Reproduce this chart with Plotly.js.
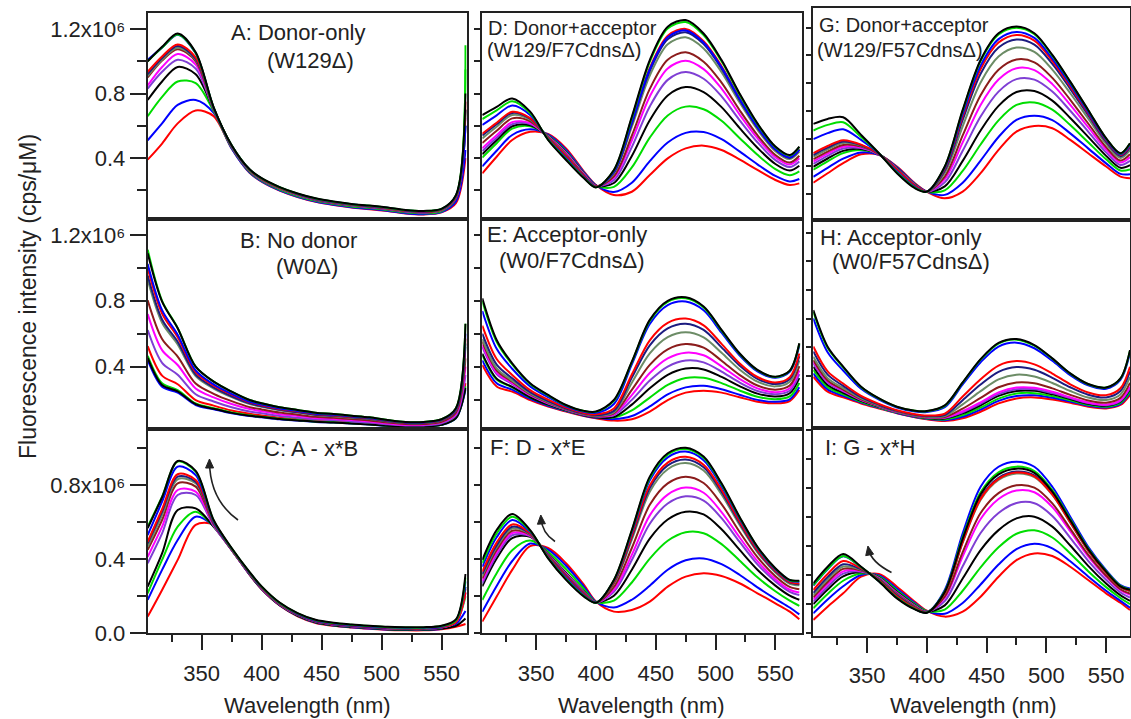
<!DOCTYPE html>
<html><head><meta charset="utf-8">
<script src="https://cdn.plot.ly/plotly-3.0.1.min.js"></script>
<style>html,body{margin:0;padding:0;background:#fff}#chart{width:1131px;height:719px}</style>
</head><body><div id="chart"></div>
<script>
// Wavelength grid (nm) shared by every spectrum
const wavelength = [305, 317, 330, 345, 360, 375, 390, 400, 415, 430, 445, 460, 475, 490, 505, 520, 535, 550, 562, 570];

// Series order inside every panel: red, blue, green, black, purple, magenta, brown, gray-green, navy, red, blue, green, black
// Values in units of 10^6 cps/uM
const spectraA = [
 [0.39,0.49,0.615,0.695,0.66,0.46,0.308,0.253,0.198,0.158,0.128,0.108,0.093,0.083,0.071,0.056,0.05,0.063,0.12,0.40],
 [0.51,0.615,0.73,0.76,0.68,0.46,0.31,0.255,0.2,0.16,0.13,0.11,0.095,0.085,0.073,0.058,0.052,0.065,0.13,0.45],
 [0.66,0.78,0.875,0.865,0.69,0.465,0.315,0.26,0.205,0.165,0.135,0.115,0.1,0.09,0.078,0.063,0.057,0.07,0.15,1.1],
 [0.76,0.875,0.965,0.92,0.70,0.47,0.32,0.265,0.21,0.17,0.14,0.12,0.105,0.095,0.083,0.068,0.062,0.075,0.15,0.6],
 [0.83,0.935,1.01,0.955,0.70,0.47,0.32,0.265,0.21,0.17,0.14,0.12,0.105,0.095,0.083,0.068,0.062,0.075,0.15,0.6],
 [0.85,0.965,1.045,0.98,0.705,0.472,0.322,0.267,0.212,0.172,0.142,0.122,0.107,0.097,0.085,0.07,0.064,0.077,0.155,0.65],
 [0.90,1.005,1.075,1.0,0.705,0.473,0.323,0.268,0.213,0.173,0.143,0.123,0.108,0.098,0.086,0.071,0.065,0.078,0.155,0.7],
 [0.91,1.01,1.085,1.01,0.708,0.474,0.324,0.269,0.214,0.174,0.144,0.124,0.109,0.099,0.087,0.072,0.066,0.079,0.158,0.7],
 [0.92,1.02,1.095,1.015,0.708,0.475,0.325,0.27,0.215,0.175,0.145,0.125,0.11,0.1,0.088,0.073,0.067,0.08,0.16,0.7],
 [0.935,1.03,1.105,1.025,0.71,0.476,0.326,0.271,0.216,0.176,0.146,0.126,0.111,0.101,0.089,0.074,0.068,0.081,0.16,0.75],
 [1.01,1.085,1.165,1.05,0.712,0.478,0.328,0.273,0.218,0.178,0.148,0.128,0.113,0.103,0.091,0.076,0.07,0.083,0.165,0.6],
 [1.0,1.085,1.167,1.052,0.713,0.479,0.329,0.274,0.219,0.179,0.149,0.129,0.114,0.104,0.092,0.077,0.071,0.084,0.168,0.95],
 [1.0,1.09,1.173,1.056,0.715,0.48,0.33,0.275,0.22,0.18,0.15,0.13,0.115,0.105,0.093,0.078,0.072,0.085,0.17,0.8]
];
const spectraB = [
 [0.524,0.345,0.293,0.197,0.163,0.133,0.113,0.103,0.089,0.08,0.071,0.067,0.06,0.054,0.045,0.039,0.039,0.05,0.094,0.30],
 [0.44,0.278,0.242,0.167,0.141,0.116,0.10,0.092,0.08,0.072,0.064,0.06,0.054,0.048,0.04,0.035,0.035,0.046,0.086,0.26],
 [0.466,0.299,0.258,0.176,0.148,0.121,0.104,0.095,0.083,0.075,0.066,0.062,0.056,0.05,0.041,0.036,0.036,0.047,0.088,0.28],
 [0.453,0.288,0.25,0.172,0.144,0.119,0.102,0.094,0.081,0.073,0.065,0.061,0.055,0.049,0.041,0.036,0.036,0.047,0.087,0.27],
 [0.622,0.423,0.351,0.232,0.188,0.153,0.127,0.116,0.10,0.09,0.08,0.075,0.067,0.06,0.05,0.043,0.043,0.056,0.103,0.35],
 [0.719,0.50,0.41,0.267,0.213,0.173,0.142,0.129,0.111,0.10,0.088,0.082,0.075,0.067,0.055,0.047,0.047,0.061,0.112,0.40],
 [0.803,0.568,0.461,0.297,0.235,0.19,0.154,0.14,0.121,0.108,0.095,0.089,0.081,0.073,0.06,0.051,0.051,0.065,0.12,0.45],
 [0.927,0.666,0.535,0.342,0.267,0.215,0.173,0.156,0.135,0.121,0.106,0.099,0.09,0.081,0.067,0.057,0.057,0.072,0.132,0.52],
 [0.953,0.686,0.551,0.351,0.274,0.22,0.177,0.159,0.138,0.123,0.108,0.101,0.092,0.083,0.068,0.058,0.058,0.073,0.134,0.54],
 [0.998,0.723,0.578,0.367,0.285,0.23,0.183,0.165,0.143,0.128,0.112,0.105,0.095,0.086,0.071,0.06,0.06,0.075,0.138,0.57],
 [1.024,0.743,0.594,0.377,0.292,0.235,0.187,0.169,0.146,0.131,0.114,0.107,0.097,0.088,0.072,0.061,0.061,0.077,0.141,0.60],
 [1.11,0.80,0.635,0.40,0.309,0.248,0.197,0.177,0.153,0.137,0.12,0.112,0.102,0.092,0.076,0.064,0.064,0.08,0.147,0.66],
 [1.089,0.795,0.633,0.40,0.309,0.248,0.197,0.177,0.153,0.137,0.12,0.112,0.102,0.092,0.076,0.064,0.064,0.08,0.147,0.66]
];
const spectraC = [
 [0.09,0.234,0.396,0.585,0.585,0.45,0.315,0.237,0.15,0.092,0.056,0.04,0.031,0.024,0.018,0.016,0.016,0.022,0.035,0.05],
 [0.18,0.342,0.503,0.629,0.579,0.45,0.316,0.238,0.151,0.094,0.058,0.042,0.033,0.026,0.02,0.018,0.018,0.025,0.05,0.12],
 [0.216,0.396,0.575,0.656,0.575,0.45,0.318,0.24,0.153,0.096,0.06,0.044,0.035,0.028,0.022,0.02,0.02,0.027,0.06,0.2],
 [0.252,0.431,0.665,0.674,0.575,0.45,0.318,0.24,0.153,0.096,0.06,0.044,0.035,0.028,0.022,0.02,0.02,0.026,0.04,0.08],
 [0.378,0.539,0.746,0.746,0.579,0.45,0.32,0.243,0.156,0.099,0.063,0.047,0.038,0.031,0.025,0.023,0.023,0.031,0.06,0.22],
 [0.413,0.575,0.773,0.764,0.584,0.45,0.32,0.243,0.156,0.099,0.063,0.047,0.038,0.031,0.025,0.023,0.023,0.031,0.06,0.22],
 [0.45,0.611,0.809,0.791,0.588,0.452,0.322,0.245,0.158,0.101,0.065,0.049,0.04,0.033,0.027,0.025,0.025,0.033,0.065,0.24],
 [0.467,0.638,0.831,0.809,0.591,0.452,0.322,0.245,0.158,0.101,0.065,0.049,0.04,0.033,0.027,0.025,0.025,0.033,0.065,0.25],
 [0.485,0.656,0.845,0.818,0.593,0.452,0.322,0.245,0.158,0.101,0.065,0.049,0.04,0.033,0.027,0.025,0.025,0.033,0.065,0.25],
 [0.494,0.669,0.858,0.827,0.597,0.454,0.324,0.247,0.16,0.103,0.067,0.051,0.042,0.035,0.029,0.027,0.027,0.035,0.06,0.22],
 [0.53,0.71,0.899,0.854,0.602,0.456,0.326,0.249,0.162,0.105,0.069,0.053,0.044,0.037,0.031,0.029,0.029,0.037,0.07,0.28],
 [0.575,0.737,0.926,0.872,0.608,0.458,0.328,0.251,0.164,0.107,0.071,0.055,0.046,0.039,0.033,0.031,0.031,0.039,0.07,0.3],
 [0.567,0.734,0.929,0.876,0.611,0.46,0.33,0.253,0.166,0.109,0.073,0.057,0.048,0.041,0.035,0.033,0.033,0.041,0.075,0.32]
];
const spectraD = [
 [0.305,0.408,0.512,0.563,0.549,0.46,0.316,0.233,0.171,0.191,0.295,0.398,0.46,0.477,0.45,0.392,0.326,0.264,0.233,0.243],
 [0.348,0.445,0.543,0.578,0.545,0.451,0.311,0.231,0.19,0.247,0.381,0.496,0.556,0.561,0.517,0.441,0.361,0.289,0.255,0.27],
 [0.403,0.492,0.582,0.597,0.539,0.441,0.305,0.229,0.221,0.342,0.527,0.664,0.719,0.703,0.631,0.525,0.42,0.331,0.293,0.317],
 [0.424,0.51,0.597,0.604,0.537,0.436,0.302,0.228,0.245,0.413,0.635,0.788,0.84,0.809,0.716,0.587,0.464,0.363,0.322,0.352],
 [0.443,0.526,0.61,0.611,0.535,0.433,0.30,0.227,0.263,0.468,0.72,0.885,0.934,0.892,0.783,0.636,0.498,0.387,0.344,0.379],
 [0.461,0.541,0.623,0.617,0.533,0.429,0.298,0.227,0.277,0.509,0.782,0.956,1.004,0.952,0.831,0.671,0.523,0.405,0.36,0.399],
 [0.493,0.569,0.646,0.628,0.53,0.423,0.294,0.225,0.287,0.539,0.829,1.01,1.056,0.998,0.868,0.698,0.542,0.419,0.372,0.414],
 [0.522,0.594,0.667,0.638,0.527,0.417,0.291,0.224,0.305,0.594,0.912,1.106,1.149,1.08,0.933,0.746,0.576,0.443,0.394,0.44],
 [0.54,0.61,0.68,0.644,0.525,0.413,0.289,0.223,0.311,0.612,0.94,1.137,1.18,1.107,0.955,0.762,0.588,0.451,0.401,0.449],
 [0.551,0.619,0.687,0.648,0.524,0.411,0.287,0.223,0.315,0.624,0.959,1.159,1.201,1.125,0.97,0.773,0.595,0.457,0.406,0.455],
 [0.605,0.665,0.726,0.667,0.518,0.40,0.281,0.221,0.314,0.619,0.951,1.15,1.192,1.117,0.963,0.768,0.592,0.454,0.404,0.453],
 [0.642,0.696,0.752,0.679,0.515,0.393,0.277,0.219,0.324,0.649,0.997,1.203,1.244,1.163,1.0,0.795,0.611,0.468,0.416,0.468],
 [0.667,0.718,0.77,0.688,0.512,0.388,0.274,0.218,0.326,0.656,1.008,1.215,1.256,1.173,1.008,0.801,0.615,0.471,0.419,0.471]
];
const spectraE = [
 [0.41,0.279,0.248,0.197,0.157,0.127,0.10,0.086,0.072,0.08,0.127,0.197,0.242,0.254,0.242,0.214,0.187,0.177,0.191,0.258],
 [0.438,0.299,0.26,0.204,0.162,0.13,0.102,0.089,0.081,0.10,0.158,0.231,0.274,0.283,0.263,0.229,0.198,0.186,0.201,0.274],
 [0.471,0.321,0.274,0.212,0.168,0.133,0.105,0.092,0.091,0.134,0.212,0.289,0.331,0.332,0.30,0.255,0.217,0.202,0.219,0.301],
 [0.479,0.327,0.277,0.214,0.169,0.134,0.105,0.093,0.093,0.169,0.268,0.35,0.388,0.383,0.338,0.282,0.236,0.218,0.238,0.33],
 [0.519,0.355,0.294,0.225,0.176,0.138,0.108,0.097,0.106,0.198,0.315,0.40,0.437,0.426,0.37,0.304,0.252,0.232,0.253,0.354],
 [0.532,0.364,0.30,0.228,0.178,0.139,0.109,0.098,0.11,0.227,0.361,0.45,0.485,0.469,0.402,0.326,0.268,0.245,0.269,0.377],
 [0.552,0.378,0.308,0.233,0.182,0.141,0.111,0.10,0.116,0.259,0.411,0.505,0.537,0.515,0.436,0.35,0.285,0.26,0.285,0.403],
 [0.568,0.389,0.315,0.237,0.185,0.143,0.112,0.102,0.121,0.302,0.48,0.579,0.609,0.578,0.484,0.383,0.309,0.28,0.308,0.438],
 [0.60,0.412,0.329,0.245,0.19,0.146,0.115,0.105,0.131,0.333,0.529,0.632,0.66,0.623,0.517,0.407,0.326,0.294,0.325,0.463],
 [0.649,0.446,0.349,0.257,0.199,0.151,0.118,0.11,0.146,0.352,0.56,0.666,0.692,0.651,0.538,0.421,0.337,0.303,0.335,0.479],
 [0.738,0.508,0.387,0.28,0.215,0.159,0.125,0.119,0.173,0.414,0.659,0.773,0.795,0.742,0.606,0.469,0.371,0.332,0.368,0.529],
 [0.799,0.551,0.413,0.295,0.225,0.165,0.13,0.125,0.192,0.427,0.678,0.794,0.815,0.76,0.619,0.478,0.378,0.337,0.374,0.539],
 [0.815,0.562,0.42,0.299,0.228,0.167,0.131,0.127,0.197,0.43,0.684,0.80,0.821,0.765,0.623,0.481,0.38,0.339,0.376,0.542]
];
const spectraF = [
 [0.063,0.198,0.342,0.47,0.46,0.378,0.261,0.171,0.117,0.126,0.171,0.252,0.306,0.324,0.309,0.27,0.216,0.162,0.117,0.076],
 [0.116,0.255,0.39,0.484,0.451,0.364,0.251,0.17,0.139,0.181,0.257,0.343,0.394,0.404,0.373,0.316,0.248,0.186,0.139,0.102],
 [0.18,0.324,0.448,0.50,0.44,0.346,0.239,0.169,0.176,0.274,0.403,0.499,0.545,0.54,0.481,0.393,0.302,0.227,0.176,0.148],
 [0.253,0.403,0.514,0.52,0.428,0.327,0.225,0.168,0.203,0.343,0.511,0.614,0.656,0.641,0.561,0.451,0.343,0.257,0.203,0.181],
 [0.269,0.421,0.529,0.524,0.425,0.322,0.222,0.167,0.224,0.395,0.591,0.70,0.739,0.716,0.621,0.494,0.372,0.28,0.224,0.206],
 [0.283,0.435,0.541,0.527,0.423,0.319,0.219,0.167,0.235,0.423,0.636,0.748,0.786,0.758,0.654,0.518,0.389,0.292,0.235,0.22],
 [0.296,0.449,0.553,0.531,0.421,0.315,0.217,0.167,0.25,0.46,0.693,0.809,0.845,0.811,0.697,0.548,0.411,0.308,0.25,0.237],
 [0.309,0.464,0.565,0.534,0.419,0.311,0.214,0.167,0.267,0.505,0.764,0.885,0.918,0.878,0.749,0.586,0.437,0.328,0.267,0.259],
 [0.319,0.474,0.575,0.537,0.417,0.309,0.212,0.166,0.273,0.518,0.784,0.906,0.938,0.896,0.764,0.597,0.444,0.334,0.273,0.265],
 [0.333,0.489,0.587,0.54,0.415,0.305,0.21,0.166,0.276,0.527,0.798,0.921,0.952,0.909,0.774,0.604,0.449,0.338,0.276,0.269],
 [0.359,0.518,0.611,0.547,0.41,0.298,0.205,0.166,0.283,0.544,0.825,0.949,0.98,0.934,0.794,0.618,0.459,0.345,0.283,0.278],
 [0.379,0.539,0.629,0.553,0.407,0.292,0.201,0.165,0.286,0.553,0.838,0.964,0.994,0.947,0.804,0.625,0.464,0.349,0.286,0.282],
 [0.396,0.557,0.644,0.557,0.404,0.288,0.198,0.165,0.288,0.557,0.845,0.971,1.001,0.953,0.809,0.629,0.467,0.351,0.288,0.284]
];
const spectraG = [
 [0.283,0.351,0.423,0.487,0.483,0.399,0.279,0.218,0.17,0.218,0.351,0.519,0.651,0.691,0.675,0.591,0.495,0.399,0.327,0.315],
 [0.325,0.39,0.456,0.501,0.484,0.394,0.275,0.218,0.195,0.283,0.442,0.612,0.735,0.765,0.734,0.638,0.53,0.422,0.346,0.343],
 [0.376,0.437,0.496,0.518,0.486,0.388,0.271,0.218,0.228,0.368,0.558,0.732,0.843,0.861,0.809,0.698,0.574,0.451,0.37,0.379],
 [0.397,0.457,0.512,0.525,0.486,0.386,0.269,0.218,0.256,0.44,0.659,0.836,0.936,0.943,0.874,0.749,0.613,0.476,0.39,0.41],
 [0.418,0.476,0.529,0.532,0.487,0.384,0.267,0.218,0.285,0.513,0.759,0.939,1.029,1.025,0.939,0.801,0.651,0.501,0.411,0.441],
 [0.435,0.492,0.542,0.537,0.487,0.382,0.266,0.218,0.308,0.573,0.843,1.026,1.107,1.094,0.993,0.844,0.683,0.522,0.428,0.467],
 [0.452,0.507,0.555,0.543,0.488,0.38,0.265,0.218,0.327,0.623,0.912,1.096,1.17,1.15,1.038,0.88,0.709,0.539,0.442,0.488],
 [0.469,0.523,0.569,0.549,0.488,0.378,0.263,0.218,0.353,0.689,1.004,1.191,1.256,1.225,1.097,0.927,0.745,0.562,0.461,0.517],
 [0.482,0.535,0.579,0.553,0.489,0.376,0.262,0.218,0.371,0.735,1.067,1.256,1.314,1.277,1.138,0.959,0.769,0.578,0.474,0.536],
 [0.495,0.547,0.589,0.557,0.489,0.375,0.261,0.218,0.381,0.76,1.102,1.292,1.347,1.306,1.161,0.977,0.782,0.587,0.482,0.547],
 [0.596,0.64,0.668,0.591,0.492,0.363,0.252,0.218,0.388,0.778,1.126,1.317,1.369,1.326,1.177,0.99,0.791,0.593,0.487,0.554],
 [0.659,0.699,0.718,0.612,0.494,0.356,0.247,0.218,0.397,0.801,1.159,1.351,1.399,1.352,1.198,1.007,0.804,0.601,0.493,0.564],
 [0.706,0.742,0.754,0.627,0.495,0.351,0.243,0.218,0.399,0.807,1.167,1.359,1.407,1.359,1.203,1.011,0.807,0.603,0.495,0.567]
];
const spectraH = [
 [0.394,0.289,0.249,0.207,0.172,0.138,0.11,0.096,0.084,0.103,0.149,0.207,0.242,0.249,0.235,0.212,0.184,0.172,0.196,0.266],
 [0.417,0.305,0.26,0.213,0.176,0.14,0.112,0.099,0.09,0.114,0.164,0.225,0.259,0.264,0.247,0.221,0.191,0.178,0.204,0.279],
 [0.441,0.321,0.271,0.219,0.179,0.143,0.115,0.102,0.095,0.125,0.178,0.241,0.276,0.279,0.258,0.229,0.197,0.184,0.211,0.291],
 [0.464,0.336,0.281,0.225,0.183,0.145,0.117,0.105,0.101,0.137,0.194,0.26,0.294,0.295,0.271,0.238,0.204,0.19,0.219,0.305],
 [0.487,0.352,0.292,0.23,0.186,0.147,0.119,0.108,0.106,0.145,0.205,0.272,0.306,0.306,0.279,0.244,0.209,0.195,0.225,0.315],
 [0.499,0.36,0.297,0.233,0.188,0.148,0.12,0.109,0.109,0.152,0.215,0.284,0.318,0.316,0.288,0.25,0.213,0.199,0.23,0.324],
 [0.511,0.368,0.303,0.236,0.19,0.15,0.122,0.111,0.112,0.17,0.246,0.32,0.354,0.348,0.312,0.267,0.227,0.212,0.246,0.351],
 [0.534,0.384,0.314,0.242,0.193,0.152,0.124,0.113,0.118,0.2,0.293,0.375,0.408,0.395,0.35,0.294,0.248,0.231,0.27,0.392],
 [0.57,0.408,0.33,0.251,0.198,0.155,0.127,0.118,0.126,0.23,0.339,0.428,0.461,0.442,0.386,0.32,0.268,0.249,0.294,0.431],
 [0.605,0.431,0.346,0.26,0.204,0.159,0.131,0.122,0.135,0.255,0.376,0.472,0.503,0.48,0.416,0.341,0.284,0.265,0.313,0.464],
 [0.802,0.565,0.437,0.309,0.233,0.178,0.15,0.147,0.18,0.34,0.495,0.605,0.632,0.593,0.505,0.405,0.333,0.31,0.371,0.561],
 [0.848,0.596,0.459,0.321,0.24,0.183,0.155,0.153,0.19,0.352,0.513,0.626,0.653,0.611,0.519,0.415,0.341,0.318,0.38,0.577],
 [0.86,0.604,0.464,0.324,0.242,0.184,0.156,0.154,0.193,0.355,0.517,0.63,0.657,0.615,0.522,0.417,0.343,0.319,0.382,0.58]
];
const spectraI = [
 [0.088,0.18,0.272,0.387,0.406,0.318,0.214,0.152,0.111,0.145,0.249,0.387,0.502,0.548,0.53,0.456,0.364,0.272,0.207,0.157],
 [0.134,0.23,0.321,0.399,0.396,0.303,0.204,0.149,0.131,0.205,0.333,0.471,0.577,0.614,0.583,0.494,0.389,0.29,0.22,0.173],
 [0.169,0.268,0.359,0.409,0.389,0.292,0.197,0.148,0.16,0.29,0.452,0.59,0.684,0.708,0.658,0.548,0.425,0.315,0.24,0.197],
 [0.197,0.299,0.389,0.417,0.383,0.283,0.191,0.146,0.189,0.375,0.571,0.709,0.79,0.802,0.733,0.603,0.462,0.34,0.259,0.22],
 [0.215,0.318,0.408,0.422,0.379,0.277,0.187,0.145,0.218,0.459,0.689,0.827,0.896,0.895,0.807,0.656,0.497,0.365,0.278,0.243],
 [0.23,0.335,0.424,0.426,0.376,0.273,0.184,0.144,0.241,0.528,0.786,0.924,0.983,0.971,0.869,0.701,0.527,0.386,0.293,0.262],
 [0.245,0.351,0.441,0.43,0.373,0.268,0.181,0.143,0.251,0.557,0.827,0.965,1.019,1.003,0.894,0.719,0.539,0.394,0.30,0.27],
 [0.26,0.368,0.457,0.434,0.37,0.263,0.178,0.142,0.273,0.622,0.918,1.056,1.10,1.075,0.952,0.76,0.566,0.414,0.314,0.288],
 [0.275,0.384,0.473,0.438,0.367,0.258,0.175,0.142,0.277,0.633,0.933,1.071,1.114,1.087,0.961,0.767,0.571,0.417,0.317,0.291],
 [0.295,0.406,0.495,0.444,0.363,0.252,0.171,0.141,0.275,0.627,0.925,1.063,1.107,1.081,0.956,0.764,0.569,0.415,0.316,0.29],
 [0.326,0.439,0.528,0.452,0.356,0.242,0.164,0.139,0.295,0.687,1.009,1.147,1.182,1.147,1.009,0.802,0.594,0.433,0.329,0.306],
 [0.328,0.442,0.53,0.453,0.356,0.241,0.164,0.139,0.286,0.66,0.971,1.109,1.148,1.117,0.985,0.785,0.583,0.425,0.323,0.299],
 [0.341,0.456,0.544,0.456,0.353,0.237,0.161,0.138,0.282,0.649,0.956,1.094,1.134,1.105,0.975,0.778,0.578,0.422,0.32,0.296]
];

const panelTitles = {
  A: ["A: Donor-only", "(W129\u0394)"],
  B: ["B: No donor", "(W0\u0394)"],
  C: ["C: A - x*B"],
  D: ["D: Donor+acceptor", "(W129/F7Cdns\u0394)"],
  E: ["E: Acceptor-only", "(W0/F7Cdns\u0394)"],
  F: ["F: D - x*E"],
  G: ["G: Donor+acceptor", "(W129/F57Cdns\u0394)"],
  H: ["H: Acceptor-only", "(W0/F57Cdns\u0394)"],
  I: ["I: G - x*H"]
};
const xTickVals = [350, 400, 450, 500, 550];
const xMinorVals = [325, 375, 425, 475, 525];
const yTickValsTop = [0.4, 0.8, 1.2];
const yTickTextTop = ["0.4", "0.8", "1.2x10\u2076"];
const yTickValsBottom = [0.0, 0.4, 0.8];
const yTickTextBottom = ["0.0", "0.4", "0.8x10\u2076"];
const xTitle = "Wavelength (nm)";
const yTitle = "Fluorescence intensity (cps/\u03bcM)";

// ---------- styling / layout ----------
const W = 1131, H = 719;
const px = x => x / W;
const py = y => 1 - y / H;
const seriesColors = ['#ff0000','#0000ff','#00dd00','#000000','#7f3fd4','#ff00ff','#8b1c1c','#6c8c66','#1c1c80','#ff0000','#0000ff','#00dd00','#000000'];
const FONT = 'Liberation Sans, Arial, Helvetica, sans-serif';
const INK = '#222';

const panels = [
  {key:'A', data:spectraA, col:0, row:0},
  {key:'B', data:spectraB, col:0, row:1},
  {key:'C', data:spectraC, col:0, row:2},
  {key:'D', data:spectraD, col:1, row:0},
  {key:'E', data:spectraE, col:1, row:1},
  {key:'F', data:spectraF, col:1, row:2},
  {key:'G', data:spectraG, col:2, row:0},
  {key:'H', data:spectraH, col:2, row:1},
  {key:'I', data:spectraI, col:2, row:2}
];
const colDom = [[147.7,466.7],[482.3,801.7],[813.3,1130]];
const rowDomAB = [[13.3,219.3],[219.3,429],[429,633.3]];
const rowDomC = [[8.3,220],[220,428.3],[428.3,636]];
const xRanges = [[305,571],[305,572],[305,570]];
const yRanges = [
  [[0.02,1.298],[0.021,1.295],[0,1.102]],
  [[0.02,1.298],[0.021,1.295],[0,1.102]],
  [[0.014,1.539],[0.033,1.49],[-0.023,1.413]]
];

const traces = [];
const layout = {
  width: W, height: H,
  margin: {l:0, r:0, t:0, b:0},
  paper_bgcolor: '#fff', plot_bgcolor: '#fff',
  showlegend: false,
  font: {family: FONT, color: INK, size: 22},
  annotations: [], shapes: []
};

panels.forEach((p, idx) => {
  const k = idx + 1;
  const xa = 'xaxis' + (k === 1 ? '' : k);
  const ya = 'yaxis' + (k === 1 ? '' : k);
  const xr = 'x' + (k === 1 ? '' : k);
  const yr = 'y' + (k === 1 ? '' : k);
  const rows = p.col === 2 ? rowDomC : rowDomAB;
  const rd = rows[p.row];
  const cd = colDom[p.col];
  const bottom = p.row === 2;

  const xaxis = {
    domain: [px(cd[0]), px(cd[1])], range: xRanges[p.col], anchor: yr,
    showline: true, mirror: true, linecolor: INK, linewidth: 2,
    showgrid: false, zeroline: false, fixedrange: true
  };
  if (bottom) {
    Object.assign(xaxis, {
      ticks: 'outside', tickvals: xTickVals, ticktext: xTickVals.map(String),
      ticklen: 15, tickwidth: 2, tickcolor: INK, ticklabelstandoff: 4,
      tickfont: {family: FONT, size: 22, color: INK},
      minor: {tickvals: xMinorVals, ticks: 'outside', ticklen: 7, tickwidth: 2, tickcolor: INK}
    });
  } else {
    Object.assign(xaxis, {ticks: '', showticklabels: false});
  }
  layout[xa] = xaxis;

  const yaxis = {
    domain: [py(rd[1]), py(rd[0])], range: yRanges[p.col][p.row], anchor: xr,
    showline: true, mirror: true, linecolor: INK, linewidth: 2,
    showgrid: false, zeroline: false, fixedrange: true,
    ticks: 'outside', tickwidth: 2, tickcolor: INK
  };
  if (p.col === 0) {
    Object.assign(yaxis, {
      tickvals: bottom ? yTickValsBottom : yTickValsTop,
      ticktext: bottom ? yTickTextBottom : yTickTextTop,
      ticklen: 16, tickfont: {family: FONT, size: 22, color: INK},
      minor: {tickvals: [0.2, 0.6, 1.0], ticks: 'outside', ticklen: 9, tickwidth: 2, tickcolor: INK}
    });
  } else {
    const top = p.col === 1 ? 1.2 : 1.4;
    const vals = [];
    for (let v = bottom ? 0 : 0.2; v <= top + 1e-9; v += 0.2) vals.push(+v.toFixed(1));
    Object.assign(yaxis, {tickvals: vals, showticklabels: false, ticklen: p.col === 1 ? 6 : 5});
  }
  layout[ya] = yaxis;

  p.data.forEach((ys, i) => {
    traces.push({
      type: 'scatter', mode: 'lines', x: wavelength, y: ys,
      xaxis: xr, yaxis: yr, hoverinfo: 'skip', showlegend: false,
      line: {color: seriesColors[i], width: 2, shape: 'spline', smoothing: 0.9},
      cliponaxis: true
    });
  });
});

// Panel labels
function label(text, x, y, anchor, size) {
  layout.annotations.push({xref:'paper', yref:'paper', x: px(x), y: py(y), text: text,
    showarrow: false, xanchor: anchor, yanchor: 'middle',
    font: {family: FONT, size: size || 22, color: INK}});
}
label(panelTitles.A[0], 298, 32, 'center');
label(panelTitles.A[1], 310, 60, 'center');
label(panelTitles.B[0], 298, 240, 'center');
label(panelTitles.B[1], 307, 266, 'center');
label(panelTitles.C[0], 311, 448, 'center');
label(panelTitles.D[0], 486, 28, 'left', 20);
label(panelTitles.D[1], 485, 50, 'left', 20);
label(panelTitles.E[0], 485, 234, 'left');
label(panelTitles.E[1], 497, 260, 'left');
label(panelTitles.F[0], 488, 447, 'left');
label(panelTitles.G[0], 817, 25, 'left', 20);
label(panelTitles.G[1], 815, 50, 'left', 20);
label(panelTitles.H[0], 818, 238, 'left');
label(panelTitles.H[1], 830, 261, 'left');
label(panelTitles.I[0], 823, 447, 'left');

// Axis titles
[307, 642, 973].forEach(cx => label(xTitle, cx, 705, 'center', 22));
layout.annotations.push({xref:'paper', yref:'paper', x: px(28), y: py(297), text: yTitle,
  showarrow: false, textangle: -90, xanchor: 'center', yanchor: 'middle',
  font: {family: FONT, size: 23, color: INK}});

// Curved arrows (path shapes with a filled triangular head)
function curvedArrow(x0, y0, cx, cy, x1, y1) {
  layout.shapes.push({type: 'path', xref: 'paper', yref: 'paper',
    path: `M ${px(x0)} ${py(y0)} Q ${px(cx)} ${py(cy)} ${px(x1)} ${py(y1)}`,
    line: {color: INK, width: 1.6}});
  const dx = x1 - cx, dy = y1 - cy, len = Math.hypot(dx, dy);
  const ux = dx / len, uy = dy / len;
  const tipX = x1 + ux * 3, tipY = y1 + uy * 3;
  const bx = tipX - ux * 9, by = tipY - uy * 9;
  const nx = -uy, ny = ux;
  layout.shapes.push({type: 'path', xref: 'paper', yref: 'paper',
    path: `M ${px(tipX)} ${py(tipY)} L ${px(bx + nx * 4)} ${py(by + ny * 4)} L ${px(bx - nx * 4)} ${py(by - ny * 4)} Z`,
    fillcolor: INK, line: {color: INK, width: 1}});
}
curvedArrow(238, 520, 210, 500, 209.5, 462);
curvedArrow(555, 541.5, 542, 533, 541, 518);
curvedArrow(891.5, 572.5, 871, 562, 868.5, 549);

Plotly.newPlot('chart', traces, layout, {displayModeBar: false, staticPlot: true});
</script>
</body></html>
